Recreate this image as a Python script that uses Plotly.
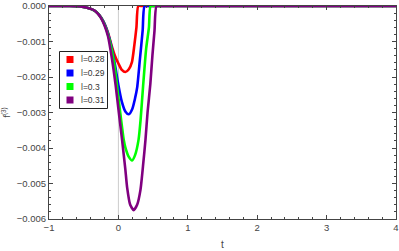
import plotly.graph_objects as go

# ---- data (y in units of 1e-3) ----
labels = ["l=0.28", "l=0.29", "l=0.3", "l=0.31"]
colors = ["#FF0000", "#0000FF", "#00FF00", "#800080"]

t_red = [-1, -0.7, -0.55, -0.45, -0.35, -0.3, -0.25, -0.2, -0.15, -0.1, -0.05, 0.0, 0.05, 0.1, 0.15, 0.195, 0.23, 0.26, 0.287, 0.35, 4]
y_red = [0, 0, -0.01, -0.05, -0.12, -0.2, -0.32, -0.5, -0.75, -1.1, -1.4, -1.62, -1.8, -1.86, -1.78, -1.58, -1.1, -0.6, 0, 0, 0]

t_blue = [-1, -0.7, -0.55, -0.45, -0.35, -0.3, -0.25, -0.2, -0.15, -0.1, -0.05, 0.0, 0.05, 0.1, 0.15, 0.2, 0.24, 0.27, 0.31, 0.35, 0.378, 0.45, 4]
y_blue = [0, 0, -0.01, -0.05, -0.12, -0.2, -0.32, -0.5, -0.77, -1.15, -1.65, -2.23, -2.7, -2.97, -3.05, -2.9, -2.6, -2.3, -1.5, -0.68, 0, 0, 0]

t_green = [-1, -0.7, -0.55, -0.45, -0.35, -0.3, -0.25, -0.2, -0.15, -0.1, -0.05, -0.02, 0.02, 0.077, 0.1, 0.15, 0.197, 0.24, 0.29, 0.32, 0.356, 0.4, 0.44, 0.465, 0.53, 4]
y_green = [0, 0, -0.01, -0.05, -0.12, -0.2, -0.33, -0.52, -0.8, -1.2, -1.75, -2.25, -2.9, -3.77, -3.98, -4.25, -4.35, -4.2, -3.77, -3.2, -2.25, -1.2, -0.6, 0, 0, 0]

t_purple = [-1, -0.7, -0.55, -0.45, -0.35, -0.3, -0.25, -0.2, -0.15, -0.09, -0.04, 0.0, 0.053, 0.1, 0.125, 0.17, 0.22, 0.27, 0.318, 0.36, 0.39, 0.42, 0.46, 0.49, 0.52, 0.55, 0.62, 4]
y_purple = [0, 0, -0.01, -0.05, -0.12, -0.21, -0.34, -0.55, -0.85, -1.52, -2.23, -2.9, -3.77, -4.6, -5.1, -5.6, -5.75, -5.6, -5.18, -4.4, -3.77, -3.0, -2.2, -1.4, -0.7, 0, 0, 0]

ytick_vals = [0, -1, -2, -3, -4, -5, -6]
ytick_text = ["0.000", "\u22120.001", "\u22120.002", "\u22120.003", "\u22120.004", "\u22120.005", "\u22120.006"]
xtick_vals = [-1, 0, 1, 2, 3, 4]
xtick_text = ["\u22121", "0", "1", "2", "3", "4"]

series = [(t_red, y_red), (t_blue, y_blue), (t_green, y_green), (t_purple, y_purple)]

W, H = 399, 251
ML, MR, MT, MB = 49, 3, 6, 32
PW, PH = W - ML - MR, H - MT - MB


def px(x):
    return (x - ML) / PW


def py(y):
    return 1 - (y - MT) / PH


fig = go.Figure()
for (tx, ty), c in zip(series, colors):
    fig.add_trace(go.Scatter(x=tx, y=[v * 1e-3 for v in ty], mode="lines",
                             line=dict(color=c, width=2.6, shape="spline", smoothing=0.6),
                             showlegend=False, hoverinfo="skip"))

fig.add_shape(type="line", xref="x", yref="paper", x0=0, x1=0, y0=0, y1=1,
              line=dict(color="#cccccc", width=1), layer="below")

# manual legend
fig.add_shape(type="rect", xref="paper", yref="paper",
              x0=px(59.5), x1=px(107.5), y0=py(108.5), y1=py(51.5),
              line=dict(color="#222", width=1), fillcolor="white")
for i, (c, lab) in enumerate(zip(colors, labels)):
    cy = 59.5 + i * 13.5
    fig.add_shape(type="rect", xref="paper", yref="paper",
                  x0=px(66.5), x1=px(73.5), y0=py(cy + 3.5), y1=py(cy - 3.5),
                  line=dict(width=0), fillcolor=c)
    fig.add_annotation(xref="paper", yref="paper", x=px(78.5), y=py(cy), text=lab,
                       showarrow=False, xanchor="left", yanchor="middle",
                       font=dict(family="Liberation Sans", size=8.5, color="#333"))

axis_common = dict(showline=True, linecolor="#444", linewidth=1, mirror="ticks",
                   ticks="inside", ticklen=4, tickcolor="#444", showgrid=False, zeroline=False,
                   ticklabeloverflow="allow",
                   tickfont=dict(family="Liberation Sans", size=9.5, color="#444"))

fig.update_layout(
    width=W, height=H,
    margin=dict(l=ML, r=MR, t=MT, b=MB, autoexpand=False),
    paper_bgcolor="white", plot_bgcolor="white",
    showlegend=False,
    xaxis=dict(range=[-1, 4], tickvals=xtick_vals, ticktext=xtick_text,
               minor=dict(dtick=0.2, ticks="inside", ticklen=2, tickcolor="#444"),
               title=dict(text="t", font=dict(family="Liberation Sans", size=10, color="#444"), standoff=8),
               automargin=False, **axis_common),
    yaxis=dict(range=[-0.006, 0], tickvals=[v * 1e-3 for v in ytick_vals], ticktext=ytick_text,
               minor=dict(dtick=0.0002, ticks="inside", ticklen=2, tickcolor="#444"),
               title=dict(text="f<sup>(3)</sup>", font=dict(family="Liberation Sans", size=9, color="#444"), standoff=4),
               automargin=False, **axis_common),
)

fig.write_html("out.html", config={"displayModeBar": False},
               post_script="document.body.style.margin='0';")
